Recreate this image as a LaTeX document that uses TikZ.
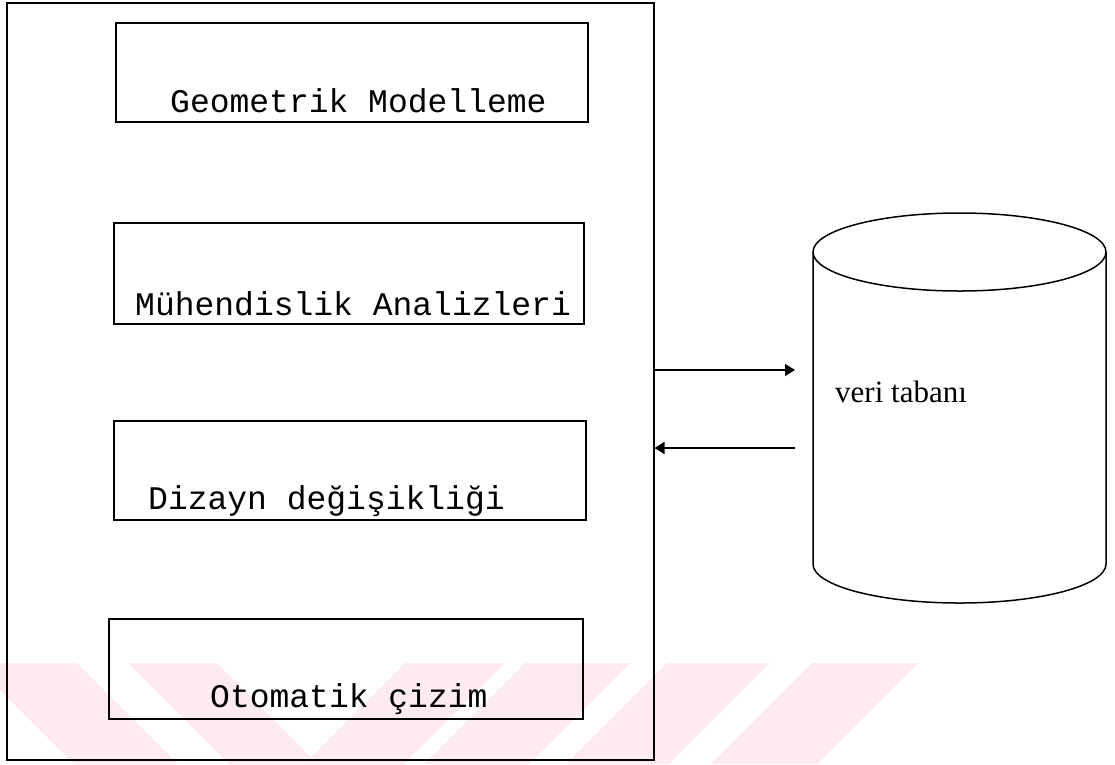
\documentclass[tikz,border=0pt]{standalone}
\usepackage{fontspec}
\newfontfamily\boxfont{Liberation Mono}
\newfontfamily\dbfont{Liberation Serif}
\usetikzlibrary{arrows.meta}
\definecolor{wmpink}{RGB}{253,235,239}
\tikzset{
  modbox/.style={draw, line width=1.5pt, rectangle, inner sep=0pt},
  modlabel/.style={anchor=base west, inner sep=0pt, font=\boxfont\fontsize{33}{33}\selectfont},
  dblabel/.style={anchor=base west, inner sep=0pt, font=\dbfont\fontsize{31}{31}\selectfont},
  link/.style={line width=1.3pt, -{Triangle[length=10pt,width=12pt]}},
  band/.style={fill=wmpink, draw=none},
}
\begin{document}
\begin{tikzpicture}[x=1pt,y=-1pt]
\useasboundingbox (0,0) rectangle (1115,764);

% pale diagonal bands along the foot of the page
\fill[band] (-27,663) -- (77,663) -- (178,764) -- (74,764) -- cycle;
\fill[band] (128,663) -- (217,663) -- (318,764) -- (229,764) -- cycle;
\fill[band] (405,663) -- (505,663) -- (404,764) -- (304,764) -- cycle;
\fill[band] (525,663) -- (630,663) -- (529,764) -- (424,764) -- cycle;
\fill[band] (667,663) -- (770,663) -- (669,764) -- (566,764) -- cycle;
\fill[band] (812,663) -- (918,663) -- (817,764) -- (711,764) -- cycle;

% system frame
\node[modbox, minimum width=647pt, minimum height=757pt, anchor=north west] (sys) at (6,2) {};

% module boxes
\node[modbox, minimum width=472pt, minimum height=99pt, anchor=north west] (geo) at (115,22) {};
\node[modbox, minimum width=470pt, minimum height=101pt, anchor=north west] (eng) at (113,222) {};
\node[modbox, minimum width=472pt, minimum height=99pt, anchor=north west] (des) at (113,420) {};
\node[modbox, minimum width=474pt, minimum height=100pt, anchor=north west] (aut) at (108,618) {};

\node[modlabel] (geot) at (170,112) {Geometrik Modelleme};
\node[modlabel] (engt) at (135,315) {Mühendislik Analizleri};
\node[modlabel] (dest) at (148,509) {Dizayn değişikliği};
\node[modlabel] (autt) at (210,707) {Otomatik çizim};

% database cylinder
\draw[line width=1.5pt] (813,252) -- (813,564) arc[start angle=180, end angle=360, x radius=146.5pt, y radius=39pt] -- (1106,252);
\draw[line width=1.5pt] (959.5,252) ellipse [x radius=146.5pt, y radius=39pt];
\node[dblabel] (dbt) at (835,402) {veri tabanı};

% data exchange
\coordinate (dbin) at (795,370);
\coordinate (dbout) at (795,448);
\draw[link] (sys.east |- dbin) -- (dbin);
\draw[link] (dbout) -- (sys.east |- dbout);
\end{tikzpicture}
\end{document}
